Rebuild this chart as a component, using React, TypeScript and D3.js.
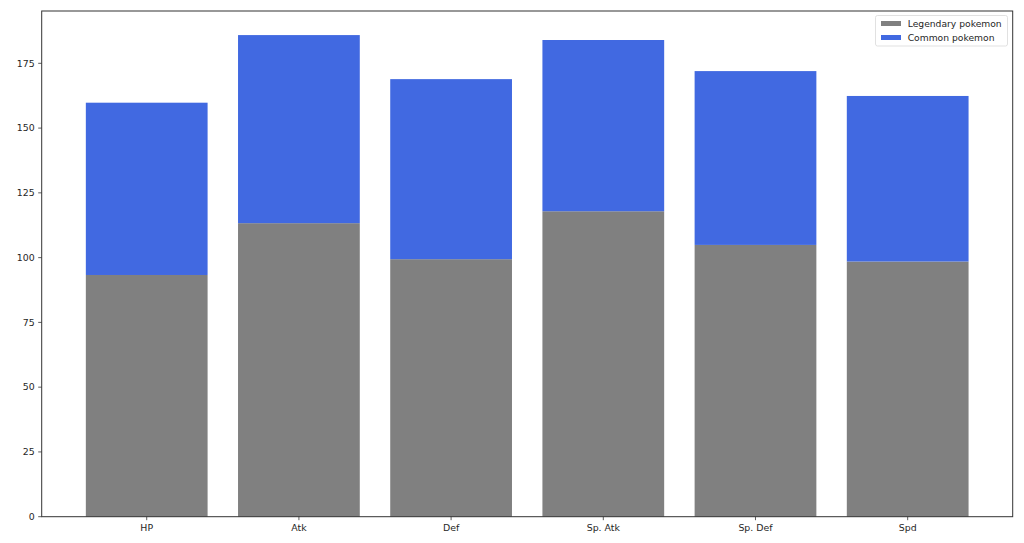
import React from "react";
import * as d3 from "d3";

const categories = ["HP", "Atk", "Def", "Sp. Atk", "Sp. Def", "Spd"];
const legendaryValues = [93.3, 113.3, 99.4, 117.9, 104.9, 98.5];
const commonValues = [66.5, 72.6, 69.5, 66.1, 67.1, 63.9];
const yTicks = [0, 25, 50, 75, 100, 125, 150, 175];
const seriesNames = ["Legendary pokemon", "Common pokemon"];
const seriesColors = ["#808080", "#4169E1"];

const W = 1024;
const H = 543;
const left = 41.7;
const right = 1012.7;
const top = 11;
const bottom = 516.7;

export default function App() {
  const totals = categories.map((_, i) => legendaryValues[i] + commonValues[i]);
  const maxTotal = d3.max(totals) as number;
  const y = d3.scaleLinear().domain([0, maxTotal * 1.05]).range([bottom, top]);
  const n = categories.length;
  // matplotlib default: bars at integer positions with width 0.8, xlim padded by 5%
  const xs = d3.scaleLinear().domain([-0.69, n - 1 + 0.69]).range([left, right]);
  const bw = xs(0.4) - xs(-0.4);

  const font = "'DejaVu Sans', sans-serif";
  const fs = 9.4;

  return (
    <svg
      width={W}
      height={H}
      style={{ position: "absolute", left: 0, top: 0, background: "#fff" }}
      fontFamily={font}
    >
      <rect x={0} y={0} width={W} height={H} fill="#fff" />
      {categories.map((c, i) => (
        <g key={c}>
          <rect
            x={xs(i) - bw / 2}
            y={y(legendaryValues[i])}
            width={bw}
            height={y(0) - y(legendaryValues[i])}
            fill={seriesColors[0]}
          />
          <rect
            x={xs(i) - bw / 2}
            y={y(legendaryValues[i] + commonValues[i])}
            width={bw}
            height={y(legendaryValues[i]) - y(legendaryValues[i] + commonValues[i])}
            fill={seriesColors[1]}
          />
        </g>
      ))}
      <rect x={left} y={top} width={right - left} height={bottom - top} fill="none" stroke="#333" strokeWidth={1} />
      {yTicks.map((t) => (
        <g key={t}>
          <line x1={left - 3.5} x2={left} y1={y(t)} y2={y(t)} stroke="#333" strokeWidth={0.8} />
          <text x={left - 7} y={y(t)} dy="0.35em" textAnchor="end" fontSize={fs} fill="#262626">
            {t}
          </text>
        </g>
      ))}
      {categories.map((c, i) => (
        <g key={"xt" + c}>
          <line x1={xs(i)} x2={xs(i)} y1={bottom} y2={bottom + 3.5} stroke="#333" strokeWidth={0.8} />
          <text x={xs(i)} y={bottom + 14} textAnchor="middle" fontSize={fs} fill="#262626">
            {c}
          </text>
        </g>
      ))}
      <g>
        <rect x={875.5} y={15.5} width={132} height={30.5} rx={2} fill="#fff" fillOpacity={0.8} stroke="#d9d9d9" strokeWidth={0.8} />
        {seriesNames.map((s, i) => (
          <g key={s}>
            <rect x={881} y={21 + i * 14} width={20} height={5} fill={seriesColors[i]} />
            <text x={907.7} y={24 + i * 14} dy="0.35em" fontSize={9.2} fill="#262626">
              {s}
            </text>
          </g>
        ))}
      </g>
    </svg>
  );
}
